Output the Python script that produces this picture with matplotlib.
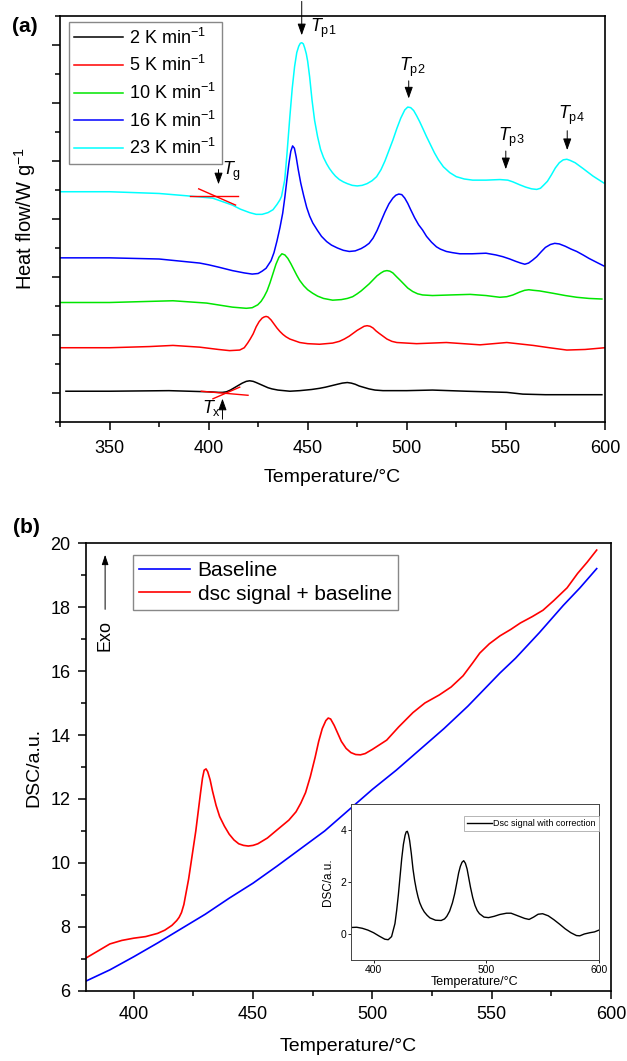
import numpy as np
import matplotlib
matplotlib.use("Agg")
from matplotlib import pyplot as plt

plt.rcParams["font.family"] = ["Liberation Sans", "DejaVu Sans"]
plt.rcParams["mathtext.fontset"] = "custom"
plt.rcParams["mathtext.rm"] = "Liberation Sans"
plt.rcParams["mathtext.it"] = "Liberation Sans:italic"
plt.rcParams["axes.linewidth"] = 1.2

# ---- panel (a): DSC traces at different heating rates (offset, a.u.)
rate_labels = ["2 K min$^{-1}$", "5 K min$^{-1}$", "10 K min$^{-1}$",
               "16 K min$^{-1}$", "23 K min$^{-1}$"]
rate_colors = ["black", "red", "#00e600", "blue", "cyan"]

t_2k = [328, 350, 380, 400, 405, 407, 409, 411, 413, 415, 417, 419, 420.7, 422.5, 424, 426, 428,
        430, 432, 435, 438, 441, 446, 452, 456, 459, 462.6, 465, 467.5, 470, 472, 474, 476, 478,
        481, 484, 488, 500, 513, 530, 550.5, 558.6, 570, 580.8, 598.5]
v_2k = [0.03, 0.03, 0.04, 0.02, 0.01, 0.01, 0.02, 0.05, 0.09, 0.13, 0.17, 0.2, 0.21, 0.2, 0.18,
        0.15, 0.12, 0.09, 0.07, 0.05, 0.04, 0.03, 0.04, 0.06, 0.08, 0.1, 0.13, 0.15, 0.17, 0.18,
        0.17, 0.15, 0.12, 0.1, 0.07, 0.05, 0.04, 0.04, 0.05, 0.03, 0.01, -0.02, -0.03, -0.03,
        -0.03]

t_5k = [325, 350, 370, 382, 395.5, 405, 410.6, 415.7, 418, 419.7, 421, 422.5, 424, 425.5, 427, 428,
        429, 430, 431.5, 433, 434.5, 436, 437.5, 439, 441, 443.5, 446, 450, 456, 462.6, 466, 468.5,
        471, 473, 475, 477, 478.5, 480, 481.5, 483, 484.5, 486, 488, 490, 492.5, 495, 505, 520,
        537, 550.5, 563.8, 572, 580.8, 590, 600]
v_5k = [0.78, 0.78, 0.8, 0.82, 0.79, 0.75, 0.73, 0.74, 0.78, 0.86, 0.93, 1.02, 1.14, 1.23, 1.29,
        1.31, 1.32, 1.31, 1.26, 1.19, 1.12, 1.06, 1.01, 0.97, 0.93, 0.9, 0.87, 0.85, 0.84, 0.86,
        0.89, 0.93, 0.98, 1.03, 1.08, 1.12, 1.15, 1.16, 1.15, 1.12, 1.07, 1.03, 0.98, 0.93, 0.89,
        0.87, 0.85, 0.87, 0.83, 0.87, 0.82, 0.78, 0.74, 0.75, 0.78]

t_10k = [325, 350, 382, 399, 412, 419, 422, 424.8, 426.5, 428, 429.5, 431, 432.5, 434, 435.5, 437,
         438.5, 440, 441.5, 443, 444.5, 446, 448, 450, 452.5, 455, 458, 462.6, 467, 470, 472.7,
         475, 477, 479, 481, 483, 485, 487, 488.5, 490, 491.5, 493, 495, 496.5, 498.5, 500.5, 503,
         505.5, 508, 513, 522, 532, 540, 547, 550.5, 553.6, 557, 559.5, 561.6, 564, 567, 573.7,
         580, 585.8, 592, 598.5]
v_10k = [1.56, 1.56, 1.59, 1.55, 1.48, 1.46, 1.47, 1.52, 1.58, 1.66, 1.76, 1.9, 2.06, 2.22, 2.34,
         2.4, 2.38, 2.32, 2.23, 2.13, 2.03, 1.94, 1.85, 1.78, 1.72, 1.67, 1.63, 1.6, 1.61, 1.63,
         1.66, 1.71, 1.76, 1.82, 1.88, 1.95, 2.02, 2.07, 2.1, 2.11, 2.1, 2.07, 2.0, 1.95, 1.88,
         1.81, 1.75, 1.71, 1.69, 1.68, 1.69, 1.7, 1.68, 1.65, 1.66, 1.69, 1.74, 1.77, 1.78, 1.77,
         1.76, 1.72, 1.68, 1.65, 1.63, 1.62]

t_16k = [325, 350, 375, 395.5, 400, 405, 412, 418, 422, 425, 427, 429, 431.5, 433, 434.5, 436,
         437.4, 438.5, 439.5, 440.5, 441.5, 442.4, 443.3, 444.2, 445.2, 446.5, 448, 449.5, 451,
         452.6, 455, 457, 459.6, 462, 465, 468, 471, 474, 477, 479, 481, 483, 485, 487, 489, 491,
         493, 494.5, 496, 497.5, 499, 500.5, 502, 504, 506, 508, 510, 512.5, 515, 517, 520, 523,
         526.8, 533, 540, 545, 548.5, 552, 555, 557.5, 559.6, 561.5, 563.5, 565.6, 568, 570,
         572.5, 574.7, 577, 580, 583, 585.8, 589, 592, 596, 599.5]
v_16k = [2.33, 2.33, 2.31, 2.24, 2.21, 2.17, 2.11, 2.07, 2.05, 2.06, 2.1, 2.15, 2.28, 2.42, 2.62,
         2.85, 3.1, 3.38, 3.67, 3.95, 4.17, 4.26, 4.22, 4.07, 3.86, 3.62, 3.4, 3.2, 3.05, 2.93,
         2.8, 2.7, 2.61, 2.55, 2.5, 2.46, 2.44, 2.45, 2.49, 2.53, 2.58, 2.67, 2.8, 2.96, 3.12,
         3.26, 3.36, 3.41, 3.43, 3.42, 3.36, 3.27, 3.16, 3.02, 2.9, 2.81, 2.7, 2.6, 2.52, 2.48,
         2.44, 2.42, 2.4, 2.4, 2.41, 2.38, 2.35, 2.31, 2.27, 2.24, 2.22, 2.24, 2.29, 2.35, 2.44,
         2.51, 2.56, 2.58, 2.57, 2.53, 2.48, 2.44, 2.38, 2.32, 2.25, 2.19]

t_23k = [325, 350, 375, 389, 402, 412, 416, 420.7, 424, 427, 430, 432.5, 434.5, 436, 436.8, 438.4,
         439.5, 441, 442.2, 443.4, 444.5, 445.5, 446.3, 447, 447.8, 448.5, 449.3, 450, 451, 452.2,
         453.5, 455, 456.5, 458, 459.6, 461, 462.5, 464, 466, 468, 470, 472.5, 475, 477.5, 480,
         482.5, 484.8, 487, 489, 491, 493, 495, 497, 499, 500.5, 502, 503.5, 505, 506.5, 508, 510,
         512, 514, 516, 518.5, 521.7, 525, 529, 533.3, 540, 547, 551, 553.6, 557, 560, 563, 565.6,
         567.5, 569, 571, 573, 575, 577, 579, 580.8, 582.5, 585, 589, 594, 599.5]
v_23k = [3.47, 3.47, 3.44, 3.4, 3.36, 3.24, 3.17, 3.11, 3.08, 3.08, 3.11, 3.16, 3.25, 3.33, 3.39,
         3.67, 4.1, 4.76, 5.25, 5.63, 5.87, 5.98, 6.03, 6.04, 6.02, 5.95, 5.85, 5.72, 5.45, 5.05,
         4.7, 4.42, 4.2, 4.06, 3.95, 3.87, 3.8, 3.74, 3.68, 3.64, 3.61, 3.58, 3.57, 3.58, 3.61,
         3.66, 3.73, 3.85, 4.0, 4.18, 4.36, 4.56, 4.74, 4.88, 4.93, 4.92, 4.87, 4.78, 4.68, 4.57,
         4.42, 4.28, 4.14, 4.02, 3.9, 3.8, 3.73, 3.69, 3.67, 3.67, 3.68, 3.67, 3.64, 3.59, 3.55,
         3.52, 3.51, 3.53, 3.58, 3.65, 3.76, 3.88, 3.97, 4.02, 4.03, 4.01, 3.97, 3.87, 3.74, 3.62]

rate_t = [t_2k, t_5k, t_10k, t_16k, t_23k]
rate_v = [v_2k, v_5k, v_10k, v_16k, v_23k]

# tangent construction lines for Tg and Tx
tg_flat_t, tg_flat_v = [390.4, 414.6], [3.40, 3.40]
tg_slope_t, tg_slope_v = [395.0, 413.6], [3.52, 3.24]
tx_flat_t, tx_flat_v = [396.3, 419.9], [0.03, -0.04]
tx_slope_t, tx_slope_v = [402.2, 415.7], [-0.10, 0.10]

# ---- panel (b): DSC signal with baseline
base_t = [380, 390, 400, 410, 420, 430, 440, 450, 460, 470, 480, 490, 500, 510, 520, 530, 540,
          553.5, 560, 570, 580, 587, 594]
base_v = [6.31, 6.66, 7.07, 7.5, 7.95, 8.4, 8.9, 9.37, 9.9, 10.45, 11.0, 11.65, 12.3, 12.9, 13.55,
          14.2, 14.9, 15.94, 16.4, 17.2, 18.05, 18.6, 19.2]

sig_t = [380, 385, 390, 395, 400, 405, 410, 413, 416, 418, 419, 420, 421, 422, 423, 424, 425, 426,
         427, 428, 428.8, 429.5, 430.3, 431, 432, 433, 434.5, 436, 438, 440, 442, 444, 446, 448,
         450, 452, 456, 460, 465, 468, 470, 472, 474, 476, 477.5, 479, 480.5, 481.5, 482.5, 484,
         485.5, 487, 489, 491, 493, 495, 497, 500, 506, 511, 517, 522, 528, 533, 538, 542, 545,
         549, 553.5, 558, 562, 567, 571.5, 576, 581.6, 586, 590, 594]
sig_v = [7.03, 7.25, 7.47, 7.58, 7.65, 7.7, 7.8, 7.9, 8.05, 8.2, 8.3, 8.45, 8.7, 9.1, 9.5, 10.0,
         10.5, 11.0, 11.6, 12.2, 12.65, 12.9, 12.94, 12.85, 12.6, 12.25, 11.8, 11.45, 11.15, 10.9,
         10.72, 10.6, 10.55, 10.53, 10.55, 10.6, 10.78, 11.03, 11.34, 11.6, 11.87, 12.2, 12.7,
         13.3, 13.8, 14.2, 14.45, 14.53, 14.5, 14.3, 14.05, 13.8, 13.58, 13.45, 13.39, 13.38,
         13.42, 13.55, 13.84, 14.25, 14.7, 15.0, 15.25, 15.5, 15.85, 16.25, 16.56, 16.85, 17.1,
         17.3, 17.5, 17.7, 17.9, 18.2, 18.6, 19.05, 19.4, 19.78]

# inset: corrected DSC signal
cor_t = [380, 385, 390, 395, 400, 405, 410, 413, 416, 419, 420.5, 422, 423.5, 425, 426.5, 428,
         429, 430, 431, 432, 433.5, 435, 436.5, 438, 439.5, 441, 443, 445, 447.5, 450, 455, 460,
         463, 465, 467.5, 470, 472, 474, 475.5, 477, 478.5, 480, 481.5, 483, 484.5, 486, 488, 490,
         492, 494, 498, 502, 507, 512, 518, 522, 528, 534, 538, 542, 546, 550, 555, 560, 565, 570,
         575, 580, 583, 587, 592, 596, 600]
cor_v = [0.25, 0.26, 0.22, 0.15, 0.05, -0.08, -0.2, -0.22, -0.1, 0.4, 0.9, 1.5, 2.2, 2.9, 3.45,
         3.8, 3.93, 3.95, 3.82, 3.6, 3.1, 2.5, 2.05, 1.7, 1.42, 1.2, 1.0, 0.85, 0.72, 0.62, 0.53,
         0.52, 0.58, 0.68, 0.88, 1.2, 1.55, 2.0, 2.35, 2.6, 2.76, 2.82, 2.72, 2.5, 2.15, 1.8, 1.4,
         1.1, 0.9, 0.78, 0.65, 0.63, 0.68, 0.75, 0.8, 0.8, 0.7, 0.6, 0.56, 0.65, 0.76, 0.78, 0.7,
         0.55, 0.38, 0.2, 0.05, -0.06, -0.07, 0.0, 0.05, 0.08, 0.15]


fig = plt.figure(figsize=(6.27, 10.61), dpi=100)

# ================= (a)
ax = fig.add_axes([0.0957, 0.6023, 0.869, 0.3826])
for t, v, c, lab in zip(rate_t, rate_v, rate_colors, rate_labels):
    ax.plot(t, v, color=c, lw=1.1, label=lab)

ax.plot(tg_flat_t, tg_flat_v, color="red", lw=1.0)
ax.plot(tg_slope_t, tg_slope_v, color="red", lw=1.0)
ax.plot(tx_flat_t, tx_flat_v, color="red", lw=1.0)
ax.plot(tx_slope_t, tx_slope_v, color="red", lw=1.0)

arrow = dict(arrowstyle="-|>,head_width=0.25,head_length=0.7", color="black", lw=0.7)
# (x, tail, head, label x, label y, text, alignment)
marks = [
    (447, 6.80, 6.12, 451, 6.28, r"$T_{\mathrm{p1}}$", "left"),
    (501, 5.43, 5.03, 503, 5.62, r"$T_{\mathrm{p2}}$", "center"),
    (550, 4.22, 3.81, 553, 4.40, r"$T_{\mathrm{p3}}$", "center"),
    (581, 4.57, 4.14, 583, 4.78, r"$T_{\mathrm{p4}}$", "center"),
    (405, 3.90, 3.55, 411.5, 3.82, r"$T_{\mathrm{g}}$", "center"),
]
for x, tail, head, lx, ly, txt, ha in marks:
    ax.annotate("", xy=(x, head), xytext=(x, tail), arrowprops=arrow, annotation_clip=False)
    ax.text(lx, ly, txt, fontsize=13, ha=ha, va="center")
ax.annotate("", xy=(407, -0.05), xytext=(407, -0.5), arrowprops=arrow, annotation_clip=False)
ax.text(401.5, -0.26, r"$T_{\mathrm{x}}$", fontsize=13, ha="center", va="center")

ax.set_xlim(325, 600)
ax.set_ylim(-0.5, 6.5)
ax.set_xticks([350, 400, 450, 500, 550, 600])
ax.set_xticks(np.arange(325, 601, 25), minor=True)
ax.set_yticks(np.arange(0, 7, 1))
ax.set_yticks(np.arange(-0.5, 6.6, 1), minor=True)
ax.set_yticklabels([])
ax.tick_params(which="major", direction="out", length=6, width=1.1, labelsize=13, pad=7)
ax.tick_params(which="minor", direction="out", length=3.5, width=1.1)
ax.set_xlabel("Temperature/°C", fontsize=14)
ax.set_ylabel("Heat flow/W g$^{-1}$", fontsize=14.5)
ax.xaxis.set_label_coords(0.5, -0.115)
ax.yaxis.set_label_coords(-0.040, 0.5)

leg = ax.legend(loc="upper left", bbox_to_anchor=(0.0165, 0.985), borderaxespad=0,
                fontsize=13, handlelength=2.7, handletextpad=0.35, labelspacing=0.42,
                borderpad=0.3, fancybox=False, framealpha=1)
leg.get_frame().set_edgecolor("#888888")
leg.get_frame().set_linewidth(1.0)

fig.text(0.019, 0.975, "(a)", fontsize=15, fontweight="bold", va="center")

# ================= (b)
bx = fig.add_axes([0.1372, 0.0660, 0.8373, 0.4222])
bx.plot(base_t, base_v, color="blue", lw=1.2, label="Baseline")
bx.plot(sig_t, sig_v, color="red", lw=1.2, label="dsc signal + baseline")

bx.annotate("", xy=(388, 19.72), xytext=(388, 17.84),
            arrowprops=dict(arrowstyle="-|>,head_width=0.2,head_length=0.6", color="black", lw=0.7))
bx.text(388, 17.1, "Exo", rotation=90, fontsize=13, ha="center", va="center")

bx.set_xlim(380, 600)
bx.set_ylim(6, 20)
bx.set_xticks([400, 450, 500, 550, 600])
bx.set_xticks(np.arange(400, 601, 25), minor=True)
bx.set_yticks(np.arange(6, 21, 2))
bx.set_yticks(np.arange(7, 20, 2), minor=True)
bx.tick_params(which="major", direction="out", length=6, width=1.1, labelsize=13, pad=5)
bx.tick_params(which="minor", direction="out", length=3.5, width=1.1)
bx.set_xlabel("Temperature/°C", fontsize=14)
bx.set_ylabel("DSC/a.u.", fontsize=14)
bx.xaxis.set_label_coords(0.5, -0.105)
bx.yaxis.set_label_coords(-0.084, 0.5)

leg2 = bx.legend(loc="upper left", bbox_to_anchor=(0.0895, 0.973), borderaxespad=0,
                 fontsize=15, handlelength=2.45, handletextpad=0.35, labelspacing=0.2,
                 borderpad=0.3, fancybox=False, framealpha=1)
leg2.get_frame().set_edgecolor("#888888")
leg2.get_frame().set_linewidth(1.0)

fig.text(0.021, 0.503, "(b)", fontsize=15, fontweight="bold", va="center")

# inset
ix = fig.add_axes([0.5598, 0.0952, 0.3955, 0.147])
ix.plot(cor_t, cor_v, color="black", lw=1.0, label="Dsc signal with correction")
ix.set_xlim(380, 600)
ix.set_ylim(-1, 5)
ix.set_xticks([400, 500, 600])
ix.set_yticks([0, 2, 4])
ix.tick_params(direction="out", length=2, width=0.6, labelsize=7.5, pad=1.5)
for s in ix.spines.values():
    s.set_linewidth(0.7)
    s.set_color("#444444")
ix.set_xlabel("Temperature/°C", fontsize=9, labelpad=0)
ix.set_ylabel("DSC/a.u.", fontsize=8.5, labelpad=1)
ix.xaxis.set_label_coords(0.5, -0.10)
ix.yaxis.set_label_coords(-0.069, 0.5)
leg3 = ix.legend(loc="upper right", bbox_to_anchor=(1.0, 0.923), borderaxespad=0,
                 fontsize=6.5, handlelength=2.8, handletextpad=0.1, borderpad=0.35,
                 fancybox=False, framealpha=1)
leg3.get_frame().set_edgecolor("#aaaaaa")
leg3.get_frame().set_linewidth(0.6)

fig.savefig("out.png", dpi=100)
